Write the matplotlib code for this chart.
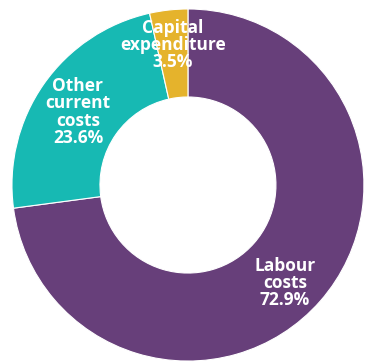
import matplotlib
matplotlib.use("Agg")
import matplotlib.pyplot as plt

categories = ["Labour\ncosts", "Other\ncurrent\ncosts", "Capital\nexpenditure"]
values = [72.9, 23.6, 3.5]
colors = ["#673F7A", "#17B9B3", "#E5B32C"]
label_pos = [(0.551, -0.557), (-0.625, 0.415), (-0.085, 0.795)]

fig = plt.figure(figsize=(3.65, 3.63), dpi=100)
ax = fig.add_axes([0, 0, 1, 1])
wedges, _ = ax.pie(values, colors=colors, startangle=90, counterclock=False,
                   radius=1.0, center=(0, 0),
                   wedgeprops=dict(width=0.5, edgecolor="white", linewidth=0.8))
for cat, v, (x, y) in zip(categories, values, label_pos):
    ax.text(x, y, f"{cat}\n{v:.1f}%", ha="center", va="center", color="white",
            fontsize=12.5, fontweight="bold", family="Open Sans", linespacing=0.95)
ax.set_xlim(-1.068, 1.006)
ax.set_ylim(-1.011, 1.051)
ax.set_aspect("auto")
ax.axis("off")
fig.savefig("out.png", dpi=100)
